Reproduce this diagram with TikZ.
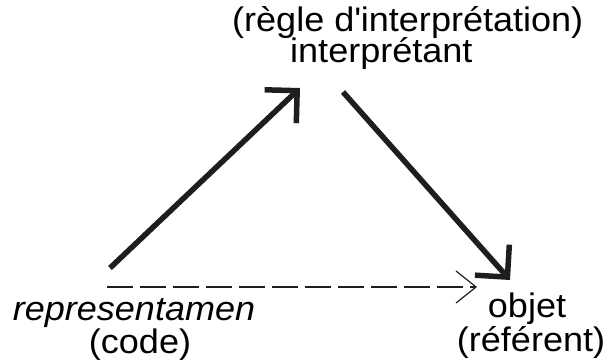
\documentclass[tikz,border=0pt]{standalone}
\usepackage{fontspec}
\setmainfont{Liberation Sans}[FakeStretch=1.06]
\usetikzlibrary{arrows.meta}
\definecolor{cLine}{RGB}{30,30,30}

\begin{document}
\begin{tikzpicture}[x=1pt,y=-1pt,
    lbl/.style={inner sep=0pt,font=\fontsize{34}{38}\selectfont},
    solidarr/.style={cLine,line width=5.5pt,-{Straight Barb[length=23pt,width=46pt]}},
    dasharr/.style={cLine,line width=2pt,dash pattern=on 26pt off 7pt,
      -{Straight Barb[length=20pt,width=32pt,line width=1.2pt]}}]
  \useasboundingbox (0,0) rectangle (607,362);
  % labels
  \node[lbl,anchor=base west] (regle) at (232,31) {(règle d\textquotesingle interprétation)};
  \node[lbl,anchor=base west] (interp) at (290,62) {interprétant};
  \node[lbl,anchor=base] (repr) at (134,320) {\itshape representamen};
  \node[lbl,anchor=base] (code) at (140,353) {(code)};
  \node[lbl,anchor=base] (objet) at (527,317) {objet};
  \node[lbl,anchor=base] (referent) at (531,351) {(référent)};
  % arrow ends
  \coordinate (reprTop) at (110,268);
  \coordinate (interpL) at (300,88);
  \coordinate (interpR) at (343,92);
  \coordinate (objetTop) at (510,280);
  \coordinate (reprR) at (107,287);
  \coordinate (objetL) at (477,287);
  \draw[solidarr] (reprTop) -- (interpL);
  \draw[solidarr] (interpR) -- (objetTop);
  \draw[dasharr] (reprR) -- (objetL);
\end{tikzpicture}
\end{document}
